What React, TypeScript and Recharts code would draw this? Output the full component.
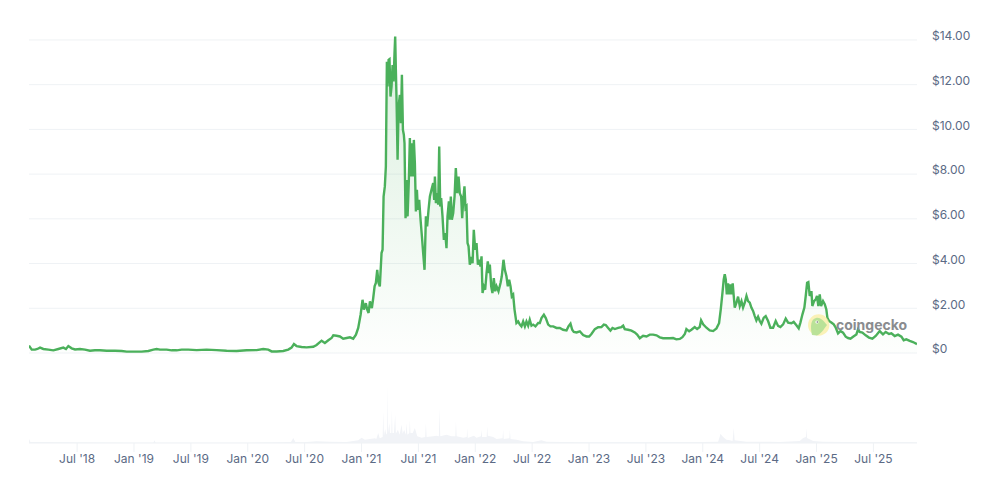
import { Area, CartesianGrid, ComposedChart, XAxis, YAxis } from "recharts";

// price, decimal year + USD
const flatYears = [
  2018.077, 2018.101, 2018.13, 2018.151, 2018.174, 2018.203, 2018.247, 2018.291, 2018.335, 2018.379, 2018.402,
  2018.423, 2018.452, 2018.482, 2018.525, 2018.569, 2018.613, 2018.657, 2018.701, 2018.76, 2018.833, 2018.892,
  2018.936, 2018.994, 2019.067, 2019.126, 2019.17, 2019.199, 2019.228, 2019.287, 2019.331, 2019.375, 2019.419,
  2019.477, 2019.551, 2019.638, 2019.726, 2019.814, 2019.902, 2019.99, 2020.078, 2020.136, 2020.18, 2020.21,
  2020.254, 2020.312, 2020.356, 2020.385, 2020.406, 2020.429, 2020.473, 2020.517, 2020.576, 2020.605, 2020.649,
  2020.678, 2020.708, 2020.737, 2020.752, 2020.781,
];
const flatPrices = [
  0.33, 0.15, 0.15, 0.18, 0.24, 0.18, 0.15, 0.12, 0.18, 0.24, 0.18, 0.31, 0.21, 0.16, 0.18, 0.15, 0.1, 0.12, 0.12,
  0.1, 0.1, 0.09, 0.06, 0.06, 0.06, 0.09, 0.15, 0.18, 0.15, 0.15, 0.12, 0.12, 0.15, 0.15, 0.13, 0.15, 0.13, 0.1,
  0.09, 0.12, 0.13, 0.18, 0.15, 0.07, 0.07, 0.09, 0.15, 0.24, 0.4, 0.31, 0.27, 0.25, 0.28, 0.36, 0.55, 0.45, 0.57,
  0.67, 0.79, 0.77,
];

const bullYears = [
  2020.81, 2020.839, 2020.869, 2020.898, 2020.927, 2020.951, 2020.971, 2020.992, 2021.009, 2021.021, 2021.038,
  2021.05, 2021.062, 2021.074, 2021.091, 2021.103, 2021.115, 2021.126, 2021.138, 2021.15, 2021.161, 2021.176,
  2021.185, 2021.194, 2021.205, 2021.214, 2021.223, 2021.229, 2021.238, 2021.246, 2021.255, 2021.264, 2021.273,
  2021.282, 2021.29, 2021.296, 2021.302, 2021.308, 2021.317, 2021.326, 2021.337, 2021.346, 2021.355, 2021.364,
  2021.372, 2021.378, 2021.387, 2021.396, 2021.405, 2021.416, 2021.425, 2021.434, 2021.443, 2021.451, 2021.46,
  2021.469, 2021.478, 2021.487, 2021.495, 2021.507, 2021.519, 2021.531, 2021.542, 2021.554, 2021.566, 2021.577,
  2021.589, 2021.601, 2021.615, 2021.63, 2021.639, 2021.645, 2021.654, 2021.665, 2021.674, 2021.683, 2021.692,
  2021.7, 2021.712, 2021.724, 2021.736, 2021.747, 2021.756, 2021.768, 2021.777, 2021.785, 2021.794, 2021.806,
  2021.818, 2021.829, 2021.841, 2021.853, 2021.864, 2021.876, 2021.885, 2021.894, 2021.905, 2021.914, 2021.923,
  2021.932, 2021.941, 2021.952, 2021.964, 2021.976, 2021.987, 2021.999,
];
const bullPrices = [
  0.74, 0.64, 0.67, 0.7, 0.64, 0.82, 1.12, 1.71, 2.38, 1.94, 2.23, 1.94, 1.79, 2.31, 2.01, 2.46, 2.98, 3.13, 3.72,
  3.13, 2.98, 4.47, 4.62, 7.0, 7.45, 8.34, 13.03, 11.92, 13.11, 13.14, 11.47, 11.92, 12.88, 12.14, 13.4, 14.15,
  12.66, 11.32, 8.64, 11.02, 11.54, 10.28, 12.44, 9.98, 9.76, 9.38, 6.03, 7.74, 6.11, 7.74, 9.61, 7.89, 9.38, 7.89,
  9.53, 8.49, 6.33, 7.3, 6.4, 6.85, 5.96, 5.21, 4.47, 3.72, 6.11, 5.66, 6.4, 7.0, 7.3, 7.6, 6.85, 7.89, 6.7, 7.15,
  6.63, 9.23, 6.55, 6.93, 6.11, 5.06, 5.36, 4.69, 6.11, 6.78, 5.96, 7.0, 5.96, 6.26, 7.0, 8.27, 7.15, 7.89, 7.15,
  7.0, 6.03, 6.85, 7.45, 6.48, 6.55, 4.92, 4.77, 3.95, 4.17, 4.02, 5.51, 4.62,
];

const bearYears = [
  2022.011, 2022.023, 2022.034, 2022.046, 2022.055, 2022.064, 2022.075, 2022.087, 2022.099, 2022.11, 2022.122,
  2022.128, 2022.14, 2022.151, 2022.163, 2022.175, 2022.187, 2022.204, 2022.222, 2022.233, 2022.248, 2022.26,
  2022.274, 2022.286, 2022.298, 2022.31, 2022.321, 2022.333, 2022.345, 2022.362, 2022.377, 2022.392, 2022.406,
  2022.421, 2022.436, 2022.45, 2022.465, 2022.479, 2022.494, 2022.509, 2022.529, 2022.553, 2022.567, 2022.582,
  2022.603, 2022.62, 2022.641, 2022.661, 2022.685, 2022.714, 2022.743, 2022.772, 2022.802, 2022.819, 2022.837,
  2022.852, 2022.866, 2022.89, 2022.919, 2022.948, 2022.978, 2023.001, 2023.021, 2023.051, 2023.08, 2023.109,
  2023.13, 2023.147, 2023.168, 2023.188, 2023.206, 2023.227, 2023.256, 2023.285, 2023.3, 2023.314, 2023.344,
  2023.373, 2023.402, 2023.423, 2023.446, 2023.475, 2023.505, 2023.534, 2023.563, 2023.593, 2023.622, 2023.651,
  2023.681, 2023.71, 2023.739, 2023.768, 2023.798, 2023.821, 2023.842, 2023.856, 2023.88, 2023.9, 2023.929,
  2023.95, 2023.973,
];
const bearPrices = [
  4.92, 3.95, 4.17, 3.87, 4.32, 2.68, 2.98, 2.83, 3.57, 4.1, 3.57, 3.95, 2.98, 2.68, 3.35, 2.76, 2.98, 2.76, 3.13,
  3.43, 4.17, 3.72, 3.43, 2.98, 3.28, 2.98, 2.53, 2.61, 1.94, 1.34, 1.41, 1.27, 1.19, 1.41, 1.19, 1.41, 1.22, 1.49,
  1.22, 1.27, 1.19, 1.34, 1.34, 1.56, 1.71, 1.56, 1.27, 1.19, 1.19, 1.12, 1.12, 1.04, 1.01, 1.19, 1.31, 1.04, 0.94,
  0.92, 0.97, 0.8, 0.74, 0.74, 0.85, 1.07, 1.15, 1.16, 1.27, 1.25, 1.12, 1.0, 1.12, 1.07, 1.12, 1.16, 1.22, 1.07,
  1.04, 1.0, 0.92, 0.82, 0.66, 0.77, 0.74, 0.82, 0.82, 0.79, 0.7, 0.66, 0.66, 0.66, 0.67, 0.61, 0.63, 0.71, 0.85,
  1.07, 0.97, 1.04, 1.16, 1.07, 1.16,
];

const recentYears = [
  2023.985, 2024.003, 2024.032, 2024.061, 2024.091, 2024.12, 2024.143, 2024.158, 2024.173, 2024.184, 2024.193,
  2024.202, 2024.211, 2024.222, 2024.231, 2024.243, 2024.252, 2024.263, 2024.272, 2024.281, 2024.296, 2024.31,
  2024.325, 2024.34, 2024.354, 2024.369, 2024.384, 2024.398, 2024.413, 2024.427, 2024.442, 2024.457, 2024.471,
  2024.486, 2024.501, 2024.515, 2024.536, 2024.553, 2024.574, 2024.594, 2024.618, 2024.641, 2024.662, 2024.682,
  2024.706, 2024.729, 2024.75, 2024.779, 2024.799, 2024.823, 2024.843, 2024.858, 2024.876, 2024.893, 2024.905,
  2024.917, 2024.928, 2024.94, 2024.955, 2024.963, 2024.978, 2024.993, 2025.004, 2025.016, 2025.028, 2025.04,
  2025.057, 2025.072, 2025.086, 2025.095, 2025.11, 2025.13, 2025.151, 2025.169, 2025.189, 2025.21, 2025.233,
  2025.256, 2025.277, 2025.298, 2025.321, 2025.35, 2025.365, 2025.379, 2025.403, 2025.432, 2025.461, 2025.491,
  2025.52, 2025.555, 2025.584, 2025.608, 2025.637, 2025.658, 2025.687, 2025.716, 2025.746, 2025.766, 2025.789,
  2025.819, 2025.848, 2025.883,
];
const recentPrices = [
  1.46, 1.28, 1.13, 1.01, 0.98, 1.1, 1.33, 1.95, 2.7, 3.29, 3.52, 3.29, 2.62, 3.11, 2.62, 3.07, 2.62, 3.11, 2.55,
  2.03, 2.25, 2.52, 2.1, 2.32, 2.03, 2.25, 2.55, 2.32, 2.25, 2.03, 1.88, 1.65, 1.46, 1.62, 1.43, 1.31, 1.58, 1.65,
  1.43, 1.13, 1.13, 1.43, 1.21, 1.16, 1.28, 1.54, 1.36, 1.33, 1.39, 1.24, 1.1, 1.36, 1.73, 2.03, 2.55, 3.14, 3.17,
  2.55, 2.77, 2.1, 2.32, 2.4, 2.55, 2.1, 2.62, 2.1, 2.32, 2.18, 1.95, 1.58, 1.43, 1.36, 1.28, 1.13, 0.88, 0.98,
  0.91, 0.73, 0.67, 0.64, 0.73, 0.83, 1.06, 0.94, 0.91, 0.79, 0.69, 0.64, 0.76, 0.98, 0.83, 0.94, 0.85, 0.88, 0.76,
  0.82, 0.73, 0.57, 0.61, 0.54, 0.49, 0.4,
];

// volume, relative units
const volumeYears = [
  2018.077, 2018.09, 2018.4, 2019.0, 2019.17, 2019.18, 2019.19, 2020.0, 2020.283, 2020.38, 2020.4, 2020.418,
  2020.488, 2020.605, 2020.722, 2020.869, 2020.971, 2021.001, 2021.03, 2021.074, 2021.118, 2021.13, 2021.147,
  2021.16, 2021.186, 2021.191, 2021.197, 2021.208, 2021.218, 2021.225, 2021.229, 2021.233, 2021.245, 2021.25,
  2021.262, 2021.267, 2021.272, 2021.285, 2021.296, 2021.302, 2021.32, 2021.335, 2021.352, 2021.362, 2021.375,
  2021.39, 2021.396, 2021.403, 2021.42, 2021.425, 2021.43, 2021.45, 2021.469, 2021.49, 2021.528, 2021.56, 2021.566,
  2021.572, 2021.63, 2021.66, 2021.68, 2021.686, 2021.692, 2021.747, 2021.791, 2021.825, 2021.83, 2021.836,
  2021.894, 2021.925, 2021.929, 2021.934, 2021.988, 2022.011, 2022.05, 2022.055, 2022.06, 2022.1, 2022.105,
  2022.11, 2022.158, 2022.187, 2022.24, 2022.245, 2022.25, 2022.3, 2022.304, 2022.31, 2022.363, 2022.421, 2022.509,
  2022.582, 2022.626, 2022.773, 2022.919, 2023.0, 2023.5, 2023.83, 2023.988, 2024.135, 2024.15, 2024.155, 2024.179,
  2024.208, 2024.237, 2024.262, 2024.272, 2024.28, 2024.384, 2024.589, 2024.677, 2024.852, 2024.882, 2024.906,
  2024.911, 2024.916, 2024.934, 2024.97, 2025.057, 2025.263, 2025.555, 2025.79, 2025.883,
];
const volumeValues = [
  12, 3, 2, 1, 1, 8, 1, 1, 2, 3, 15, 3, 2, 5, 4, 3, 8, 16, 10, 12, 14, 12, 30, 14, 18, 95, 22, 42, 25, 30, 175, 30, 60,
  30, 30, 100, 30, 30, 85, 28, 40, 25, 55, 28, 40, 25, 60, 25, 30, 70, 30, 30, 45, 20, 16, 18, 60, 18, 20, 22, 20, 105,
  20, 25, 20, 20, 65, 20, 16, 18, 45, 15, 22, 16, 20, 40, 18, 18, 50, 22, 18, 12, 14, 40, 12, 14, 40, 12, 10, 5, 3, 8,
  4, 3, 2, 2, 2, 3, 3, 4, 20, 28, 18, 10, 8, 6, 45, 8, 4, 4, 3, 6, 15, 18, 45, 15, 12, 6, 4, 3, 3, 3, 2,
];

const priceTicks = [0, 2, 4, 6, 8, 10, 12, 14];
const priceTickLabels = ["$0", "$2.00", "$4.00", "$6.00", "$8.00", "$10.00", "$12.00", "$14.00"];
const timeTicks = [2018.5, 2019, 2019.5, 2020, 2020.5, 2021, 2021.5, 2022, 2022.5, 2023, 2023.5, 2024, 2024.5, 2025, 2025.5];
const timeTickLabels = [
  "Jul '18", "Jan '19", "Jul '19", "Jan '20", "Jul '20", "Jan '21", "Jul '21", "Jan '22",
  "Jul '22", "Jan '23", "Jul '23", "Jan '24", "Jul '24", "Jan '25", "Jul '25",
];

const priceYears = [...flatYears, ...bullYears, ...bearYears, ...recentYears];
const priceValues = [...flatPrices, ...bullPrices, ...bearPrices, ...recentPrices];
const priceData = priceYears.map((year, i) => ({ year, price: priceValues[i] }));
const volumeData = volumeYears.map((year, i) => ({ year, volume: volumeValues[i] }));

const FONT = "Inter, sans-serif";
const LABEL = "#5b6a85";
const GRID = "#eff2f5";

const App = () => {
  return (
    <div style={{ position: "absolute", left: 0, top: 0, width: 1004, height: 481, background: "#fff" }}>
      <ComposedChart width={1004} height={481} margin={{ top: 17.6, right: 0, bottom: 0, left: 29 }}>
        <defs>
          <linearGradient id="priceFill" x1="0" y1="0" x2="0" y2="1">
            <stop offset="0%" stopColor="#4bb05b" stopOpacity={0.2} />
            <stop offset="100%" stopColor="#4bb05b" stopOpacity={0.01} />
          </linearGradient>
        </defs>
        <CartesianGrid yAxisId="price" xAxisId={0} vertical={false} stroke={GRID} horizontalValues={priceTicks} />
        <XAxis
          type="number"
          dataKey="year"
          domain={[2018.077, 2025.883]}
          ticks={timeTicks}
          interval={0}
          allowDataOverflow
          height={38}
          tickSize={9}
          tickMargin={2}
          stroke={GRID}
          tick={{ fontSize: 12, fill: LABEL, fontFamily: FONT }}
          tickFormatter={(v: number) => timeTickLabels[timeTicks.indexOf(v)]}
        />
        <YAxis
          yAxisId="price"
          orientation="right"
          domain={[-4.025, 15]}
          ticks={priceTicks}
          interval={0}
          width={87}
          axisLine={false}
          tickLine={false}
          tickMargin={9}
          allowDataOverflow
          tick={{ fontSize: 12, fill: LABEL, fontFamily: FONT, dy: -4, textAnchor: "start" }}
          tickFormatter={(v: number) => priceTickLabels[priceTicks.indexOf(v)]}
        />
        <YAxis yAxisId="volume" hide domain={[0, 1275]} allowDataOverflow />
        <Area
          yAxisId="volume"
          data={volumeData}
          dataKey="volume"
          type="linear"
          stroke="none"
          fill="#f1f3f7"
          fillOpacity={1}
          dot={false}
          activeDot={false}
          isAnimationActive={false}
        />
        <Area
          yAxisId="price"
          data={priceData}
          dataKey="price"
          type="linear"
          baseValue={0}
          stroke="#4bb05b"
          strokeWidth={2.4}
          fill="url(#priceFill)"
          fillOpacity={1}
          dot={false}
          activeDot={false}
          isAnimationActive={false}
        />
      </ComposedChart>
      {/* watermark */}
      <svg width={1004} height={481} style={{ position: "absolute", left: 0, top: 0, pointerEvents: "none" }}>
        <circle cx={818.7} cy={325} r={10.7} fill="#f9eda0" fillOpacity={0.75} />
        <path d="M812 335 C810 326 811 319 816 318 C820 317 823 320 827 325 C824 329 821 334 817 335.5 Z" fill="#b3e095" fillOpacity={0.9} />
        <circle cx={817} cy={322} r={1.6} fill="#fff" />
        <circle cx={817.3} cy={322} r={0.8} fill="#666" />
        <text x={836} y={330} fontFamily={FONT} fontSize={14} fontWeight={700} fill="#8a8c8f">
          coingecko
        </text>
      </svg>
    </div>
  );
};

export default App;
